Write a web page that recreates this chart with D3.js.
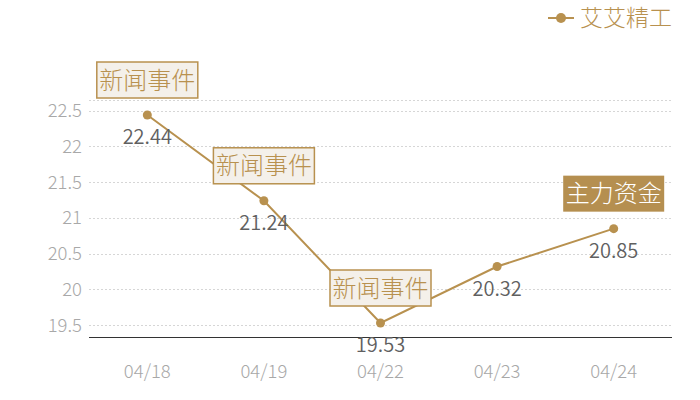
<!DOCTYPE html>
<html><head><meta charset="utf-8">
<script src="https://cdn.jsdelivr.net/npm/d3@7"></script>
<style>body{margin:0;background:#fff}svg{display:block;font-family:"Noto Sans CJK SC","Noto Sans",sans-serif;font-weight:300}</style>
</head><body><svg id="c" width="700" height="400"></svg>
<script>
const categories = ["04/18","04/19","04/22","04/23","04/24"];
const values = [22.44,21.24,19.53,20.32,20.85];
const yTicks = [19.5,20,20.5,21,21.5,22,22.5];
const seriesName = "艾艾精工";
const annotations = [
  {idx:0, text:"新闻事件", type:"news"},
  {idx:1, text:"新闻事件", type:"news"},
  {idx:2, text:"新闻事件", type:"news"},
  {idx:4, text:"主力资金", type:"fund"}
];
const gold = "#b8914f";
const svg = d3.select("#c");
const x = d3.scaleBand().domain(categories).range([89,672]);
const y = d3.scaleLinear().domain([19.33,22.65]).range([337.3,100]);
const cx = d => x(d) + x.bandwidth()/2;

// grid
const grid = svg.append("g");
grid.selectAll("line").data(yTicks.concat([22.65])).join("line")
  .attr("x1",89).attr("x2",672).attr("y1",d=>Math.round(y(d))+0.5).attr("y2",d=>Math.round(y(d))+0.5)
  .attr("stroke","#d6d6d6").attr("stroke-dasharray","2,2");

// y labels
svg.append("g").selectAll("text").data(yTicks).join("text")
  .attr("x",82).attr("y",d=>y(d)).attr("dy","0.35em").attr("text-anchor","end")
  .attr("font-size",18.5).attr("fill","#a8a8a8").text(d=>d);

// x axis
svg.append("line").attr("x1",89).attr("x2",672).attr("y1",337.5).attr("y2",337.5).attr("stroke","#333");
svg.append("g").selectAll("text").data(categories).join("text")
  .attr("x",d=>cx(d)).attr("y",372).attr("dy","0.35em").attr("text-anchor","middle")
  .attr("font-size",18.5).attr("fill","#a8a8a8").text(d=>d);

// line
const data = categories.map((c,i)=>({c,v:values[i]}));
svg.append("path").datum(data)
  .attr("d",d3.line().x(d=>cx(d.c)).y(d=>y(d.v)))
  .attr("fill","none").attr("stroke",gold).attr("stroke-width",2);
svg.append("g").selectAll("circle").data(data).join("circle")
  .attr("cx",d=>cx(d.c)).attr("cy",d=>y(d.v)).attr("r",4.5).attr("fill",gold);

// value labels
svg.append("g").selectAll("text").data(data).join("text")
  .attr("x",d=>cx(d.c)).attr("y",d=>y(d.v)+22).attr("dy","0.35em").attr("text-anchor","middle")
  .attr("font-size",20).attr("font-weight",350).attr("fill","#606060").text(d=>d.v.toFixed(2));

// annotations
const ag = svg.append("g");
annotations.forEach(a=>{
  const px = cx(categories[a.idx]), py = y(values[a.idx]);
  const w = 101, h = 36, bx = px - w/2, by = py - 17 - h;
  const fund = a.type==="fund";
  ag.append("rect").attr("x",bx).attr("y",by).attr("width",w).attr("height",h)
    .attr("fill",fund?"#b58f50":"#f4f0ea").attr("stroke",fund?"none":gold).attr("stroke-width",1.5);
  ag.append("text").attr("x",px).attr("y",by+h/2).attr("dy","0.36em").attr("text-anchor","middle")
    .attr("font-size",24).attr("fill",fund?"#ffffff":gold).text(a.text);
});

// legend
const lg = svg.append("g");
lg.append("line").attr("x1",548).attr("x2",574).attr("y1",18).attr("y2",18).attr("stroke",gold).attr("stroke-width",2);
lg.append("circle").attr("cx",561).attr("cy",18).attr("r",5).attr("fill",gold);
lg.append("text").attr("x",580).attr("y",18).attr("dy","0.36em").attr("font-size",23).attr("fill",gold).text(seriesName);
</script></body></html>
